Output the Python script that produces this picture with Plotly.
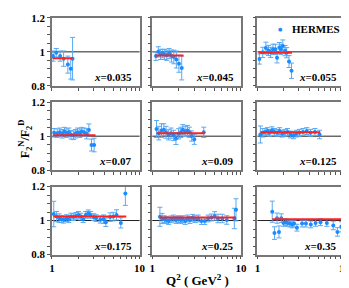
import plotly.graph_objects as go
from plotly.subplots import make_subplots

# ---------------- data ----------------
x_bins = ["0.035", "0.045", "0.055", "0.07", "0.09", "0.125", "0.175", "0.25", "0.35"]

q2_1 = [1.03, 1.12, 1.24, 1.36, 1.52, 1.64, 1.72]
r_1 = [0.975, 0.995, 0.975, 0.96, 0.925, 0.90, 0.96]
e_1 = [0.03, 0.025, 0.03, 0.045, 0.05, 0.06, 0.125]

q2_2 = [1.10, 1.17, 1.24, 1.31, 1.38, 1.46, 1.55, 1.65, 1.75, 1.87, 2.00, 2.15]
r_2 = [0.975, 1.0, 0.985, 0.99, 0.985, 0.98, 0.99, 0.975, 0.97, 0.955, 0.93, 0.905]
e_2 = [0.025, 0.03, 0.03, 0.025, 0.03, 0.03, 0.03, 0.035, 0.04, 0.05, 0.05, 0.07]

q2_3 = [1.05, 1.15, 1.25, 1.34, 1.42, 1.51, 1.61, 1.68, 1.79, 1.86, 1.96, 2.08, 2.17, 2.31, 2.47]
r_3 = [0.958, 0.997, 1.022, 1.008, 0.997, 1.015, 1.015, 0.965, 1.025, 1.015, 1.035, 1.007, 0.995, 0.943, 0.889]
e_3 = [0.03, 0.03, 0.035, 0.03, 0.03, 0.03, 0.03, 0.03, 0.03, 0.03, 0.035, 0.03, 0.03, 0.035, 0.045]

q2_4 = [1.06, 1.15, 1.23, 1.31, 1.39, 1.48, 1.56, 1.65, 1.76, 1.85, 1.96, 2.08, 2.19, 2.33, 2.49, 2.64, 2.83, 3.03]
r_4 = [1.02, 1.018, 1.023, 1.014, 1.027, 1.018, 1.023, 1.008, 1.005, 1.014, 1.023, 1.018, 1.027, 1.023, 1.014, 1.037, 0.948, 0.948]
e_4 = [0.025, 0.025, 0.025, 0.025, 0.025, 0.025, 0.025, 0.025, 0.025, 0.025, 0.025, 0.025, 0.025, 0.025, 0.03, 0.035, 0.035, 0.04]

q2_5 = [1.117, 1.186, 1.27, 1.35, 1.43, 1.53, 1.63, 1.74, 1.85, 1.98, 2.10, 2.21, 2.35, 2.49, 2.62, 2.78, 2.98, 3.81]
r_5 = [1.042, 1.018, 1.033, 1.038, 1.023, 1.008, 1.018, 1.005, 0.986, 1.014, 1.023, 1.038, 1.028, 1.033, 1.023, 1.001, 0.982, 1.023]
e_5 = [0.05, 0.04, 0.04, 0.035, 0.035, 0.03, 0.03, 0.03, 0.035, 0.03, 0.03, 0.03, 0.03, 0.03, 0.03, 0.03, 0.03, 0.03]

q2_6 = [1.08, 1.15, 1.22, 1.30, 1.38, 1.47, 1.57, 1.68, 1.80, 1.93, 2.07, 2.22, 2.40, 2.60, 2.80, 3.05, 3.35, 3.70, 4.10, 4.60, 5.20]
r_6 = [1.01, 1.02, 1.025, 1.03, 1.02, 1.035, 1.025, 1.02, 1.03, 1.015, 1.02, 1.025, 1.01, 1.005, 1.015, 1.02, 1.025, 1.03, 1.02, 1.025, 1.01]
e_6 = [0.05, 0.025, 0.02, 0.02, 0.02, 0.02, 0.02, 0.02, 0.02, 0.02, 0.02, 0.02, 0.02, 0.02, 0.02, 0.02, 0.02, 0.02, 0.02, 0.02, 0.025]

q2_7 = [1.05, 1.13, 1.21, 1.28, 1.36, 1.46, 1.56, 1.65, 1.76, 1.88, 2.01, 2.14, 2.27, 2.43, 2.60, 2.76, 3.00, 3.19, 3.56, 3.88, 4.12, 4.61, 5.01, 5.46, 6.11, 6.88]
r_7 = [1.038, 1.023, 1.014, 1.008, 1.005, 1.014, 1.008, 1.023, 1.020, 1.027, 1.033, 1.023, 1.008, 1.033, 1.042, 1.033, 1.020, 1.014, 1.005, 1.008, 0.99, 1.020, 1.023, 1.033, 0.986, 1.159]
e_7 = [0.075, 0.03, 0.025, 0.02, 0.02, 0.02, 0.02, 0.02, 0.02, 0.02, 0.02, 0.02, 0.02, 0.02, 0.02, 0.02, 0.02, 0.02, 0.02, 0.025, 0.025, 0.025, 0.025, 0.03, 0.03, 0.07]

q2_8 = [1.22, 1.29, 1.37, 1.44, 1.53, 1.63, 1.74, 1.86, 1.98, 2.10, 2.21, 2.35, 2.49, 2.66, 2.85, 3.03, 3.30, 3.59, 3.91, 4.26, 4.64, 5.06, 5.51, 6.16, 6.93, 8.43, 8.8]
r_8 = [1.022, 1.012, 1.008, 1.003, 0.997, 1.007, 1.012, 1.003, 1.008, 1.003, 1.008, 0.997, 1.012, 1.003, 1.016, 1.008, 1.012, 0.997, 0.997, 1.012, 1.018, 1.027, 1.012, 1.012, 1.003, 1.012, 1.063]
e_8 = [0.056, 0.03, 0.02, 0.02, 0.02, 0.02, 0.02, 0.02, 0.02, 0.02, 0.02, 0.02, 0.02, 0.02, 0.02, 0.02, 0.02, 0.02, 0.02, 0.02, 0.02, 0.025, 0.025, 0.025, 0.025, 0.06, 0.065]

q2_9 = [1.48, 1.57, 1.68, 1.77, 1.88, 1.995, 2.12, 2.23, 2.37, 2.51, 2.64, 2.85, 3.27, 3.62, 4.12, 4.68, 5.33, 6.31, 7.49, 8.36, 9.27]
r_9 = [1.052, 0.926, 1.014, 0.933, 1.014, 0.986, 0.99, 0.986, 0.982, 0.977, 0.982, 0.958, 0.982, 0.982, 0.977, 0.986, 0.99, 0.986, 0.971, 0.933, 0.963]
e_9 = [0.062, 0.037, 0.03, 0.035, 0.025, 0.02, 0.02, 0.02, 0.02, 0.02, 0.02, 0.02, 0.02, 0.02, 0.02, 0.02, 0.02, 0.02, 0.025, 0.025, 0.03]

fit_level = [0.962, 0.978, 0.994, 1.005, 1.018, 1.023, 1.023, 1.018, 1.008]
fit_q2_min = [1.02, 1.09, 1.03, 1.03, 1.12, 1.08, 1.04, 1.22, 1.48]
fit_q2_max = [1.72, 2.25, 2.50, 3.14, 3.91, 5.30, 7.05, 8.80, 9.70]

y_major_vals = [0.8, 1.0, 1.2]
y_major_text = ["0.8", "1", "1.2"]
y_minor_vals = [0.85, 0.9, 0.95, 1.05, 1.1, 1.15]
x_major_vals = [1, 10]
x_major_text = ["1", "10"]
x_minor_vals = [2, 3, 4, 5, 6, 7, 8, 9]

panels_q2 = [q2_1, q2_2, q2_3, q2_4, q2_5, q2_6, q2_7, q2_8, q2_9]
panels_r = [r_1, r_2, r_3, r_4, r_5, r_6, r_7, r_8, r_9]
panels_e = [e_1, e_2, e_3, e_4, e_5, e_6, e_7, e_8, e_9]

# ---------------- figure ----------------
W, H = 349, 288
col_px = [(42, 132), (145, 236), (253, 342)]
row_px = [(4, 75), (92, 163), (180, 251)]

SERIF = "Liberation Serif"
PT_COLOR = "#1a8cff"
ERR_COLOR = "#5aa9f0"

fig = make_subplots(rows=3, cols=3)

for i in range(9):
    r, c = divmod(i, 3)
    fig.add_trace(go.Scatter(
        x=panels_q2[i], y=panels_r[i], mode="markers",
        marker=dict(color=PT_COLOR, size=4),
        error_y=dict(type="data", array=panels_e[i], color=ERR_COLOR, thickness=1, width=2.5),
        name="HERMES", showlegend=False), row=r + 1, col=c + 1)
    fig.add_trace(go.Scatter(
        x=[fit_q2_min[i], fit_q2_max[i]], y=[fit_level[i], fit_level[i]], mode="lines",
        line=dict(color="#ff2020", width=2), showlegend=False, hoverinfo="skip"),
        row=r + 1, col=c + 1)

    ax = "" if i == 0 else str(i + 1)
    x0, x1 = col_px[c]
    y0, y1 = row_px[r]
    fig.update_layout(**{
        "xaxis" + ax: dict(
            type="log", range=[0, 1], domain=[x0 / W, x1 / W],
            tickmode="array", tickvals=x_major_vals, ticktext=x_major_text,
            showticklabels=(r == 2),
            ticks="outside", ticklen=3, tickcolor="#555", tickwidth=1,
            minor=dict(tickmode="array", tickvals=x_minor_vals, ticks="outside",
                       ticklen=3, tickcolor="#555", tickwidth=1, showgrid=False),
            showline=True, linecolor="#777", linewidth=1.5, mirror=True,
            showgrid=False, zeroline=False,
            tickfont=dict(family=SERIF, size=11, color="black", weight="bold")),
        "yaxis" + ax: dict(
            range=[0.8, 1.2], domain=[1 - y1 / H, 1 - y0 / H],
            tickmode="array", tickvals=y_major_vals, ticktext=y_major_text,
            showticklabels=(c == 0),
            ticks="outside", ticklen=3, tickcolor="#555", tickwidth=1,
            minor=dict(tickmode="array", tickvals=y_minor_vals, ticks="outside",
                       ticklen=3, tickcolor="#555", tickwidth=1, showgrid=False),
            showline=True, linecolor="#777", linewidth=1.5, mirror=True,
            showgrid=False, zeroline=False,
            tickfont=dict(family=SERIF, size=11, color="black", weight="bold")),
    })
    xref = "x" + ax
    yref = "y" + ax
    fig.add_shape(type="line", xref=xref + " domain", yref=yref, x0=0, x1=1, y0=1, y1=1,
                  line=dict(color="#222", width=1), layer="below")
    fig.add_annotation(xref=xref + " domain", yref=yref + " domain", x=0.94, y=0.13,
                       xanchor="right", yanchor="middle", showarrow=False,
                       text="<i>x</i>=" + x_bins[i],
                       font=dict(family=SERIF, size=11, color="black", weight="bold"))

# legend (HERMES) in top-right panel
fig.add_annotation(xref="x3 domain", yref="y3 domain", x=0.26, y=0.83, xanchor="center",
                   yanchor="middle", showarrow=False, text="●",
                   font=dict(family="DejaVu Sans", size=5, color=PT_COLOR))
fig.add_annotation(xref="x3 domain", yref="y3 domain", x=0.38, y=0.83, xanchor="left",
                   yanchor="middle", showarrow=False, text="HERMES",
                   font=dict(family=SERIF, size=11, color="black", weight="bold"))

# axis titles
fig.add_annotation(xref="paper", yref="paper", x=191 / W, y=1 - 278 / H, xanchor="center",
                   yanchor="middle", showarrow=False, text="Q<sup>2</sup> ( GeV<sup>2</sup> )",
                   font=dict(family=SERIF, size=13, color="black", weight="bold"))
fig.add_annotation(xref="paper", yref="paper", x=15 / W, y=1 - 130 / H, xanchor="center",
                   yanchor="middle", showarrow=False, textangle=-90,
                   text="F<sub>2</sub><sup>N</sup>/F<sub>2</sub><sup>D</sup>",
                   font=dict(family=SERIF, size=12, color="black", weight="bold"))

fig.update_layout(width=W, height=H, margin=dict(l=0, r=0, t=0, b=0),
                  paper_bgcolor="white", plot_bgcolor="white", showlegend=False)

fig.write_html("out.html")
